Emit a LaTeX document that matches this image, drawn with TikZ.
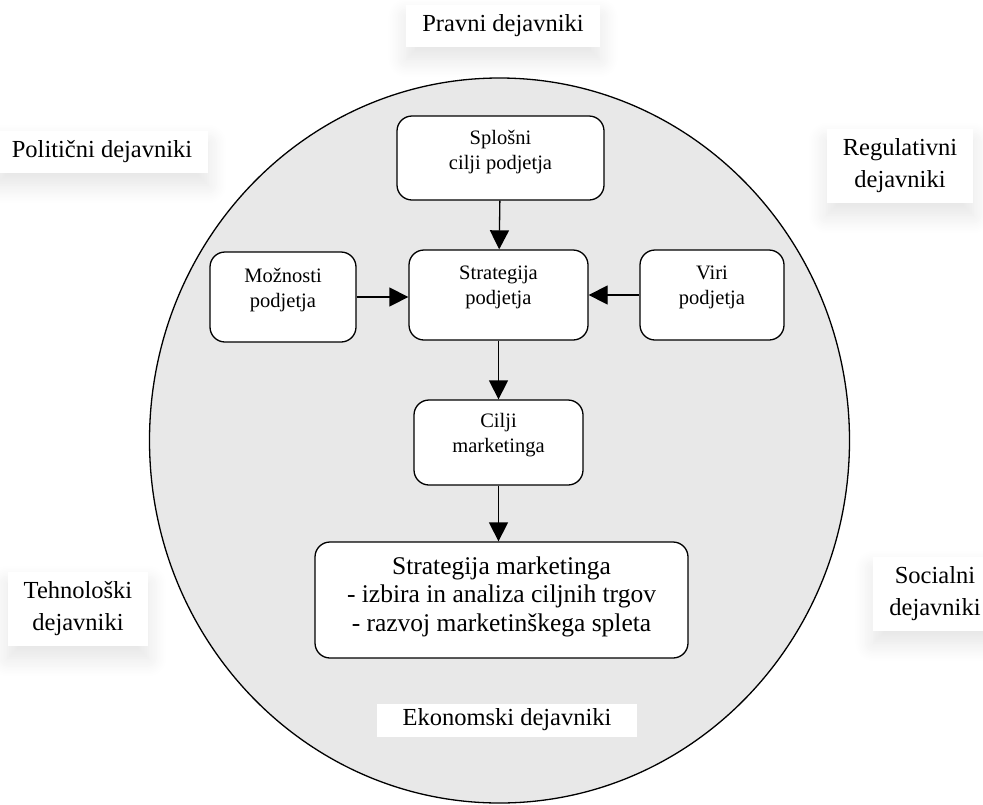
\documentclass[tikz,border=0pt]{standalone}
\usepackage{fontspec}
\setmainfont{Liberation Serif}
\usetikzlibrary{arrows.meta,shadows.blur}
\definecolor{discfill}{RGB}{232,232,232}
% empty trailing row that lifts the text block inside a box
\newcommand{\liftrow}[1]{\\[#1]\mbox{}}
\tikzset{
  box/.style={draw=black, line width=1.3pt, fill=white, rounded corners=15pt,
    align=center, inner sep=0pt, font=\fontsize{20.5}{25}\selectfont},
  bigbox/.style={box, font=\fontsize{25.5}{28.5}\selectfont},
  factor/.style={align=center, inner xsep=16pt, inner ysep=10pt, fill=white,
    font=\fontsize{24.5}{32}\selectfont,
    blur shadow={shadow xshift=0pt, shadow yshift=-12pt,
      shadow blur radius=18pt, shadow opacity=11, shadow blur steps=12}},
  flow/.style={line width=1.3pt, -{Triangle[length=19pt,width=19pt]}}
}
\begin{document}
\begin{tikzpicture}[x=1pt, y=-1pt]
\useasboundingbox (0,0) rectangle (983,804);

% environment disc
\draw[line width=1.3pt, fill=discfill] (499.5,440.5) ellipse [x radius=350, y radius=362.5];

% outer factors
\node[factor] (pravni) at (503,26) {Pravni dejavniki};
\node[factor] (politicni) at (102,152) {Politični dejavniki};
\node[factor] (regul) at (900,166) {Regulativni\\dejavniki};
\node[factor] (tehno) at (78,609) {Tehnološki\\dejavniki};
\node[factor] (social) at (935,594) {Socialni\\dejavniki};
\node[fill=white, minimum width=260pt, minimum height=33pt, inner sep=0pt,
  font=\fontsize{24.5}{32}\selectfont] (ekon) at (507,720) {Ekonomski dejavniki};

% planning boxes
\node[box, minimum width=207pt, minimum height=84pt] (splosni) at (500.5,158) {Splošni\\cilji podjetja\liftrow{-8pt}};
\node[box, minimum width=179pt, minimum height=90pt] (strat) at (498.5,295) {Strategija\\podjetja\liftrow{-6pt}};
\node[box, minimum width=146pt, minimum height=90pt] (moz) at (283,297) {Možnosti\\podjetja\liftrow{-6pt}};
\node[box, minimum width=144pt, minimum height=90pt] (viri) at (712,295) {Viri\\podjetja\liftrow{-6pt}};
\node[box, minimum width=169pt, minimum height=85pt] (cilji) at (498.5,442.5) {Cilji\\marketinga\liftrow{-6pt}};
\node[bigbox, minimum width=373pt, minimum height=116pt] (stratm) at (501.5,600)
  {Strategija marketinga\\- izbira in analiza ciljnih trgov\\- razvoj marketinškega spleta\liftrow{-16pt}};

% flows
\draw[flow] (splosni) -- (strat);
\draw[flow] (moz) -- (moz -| strat.west);
\draw[flow] (viri) -- (viri -| strat.east);
\draw[flow] (strat) -- (cilji);
\draw[flow] (cilji) -- (cilji |- stratm.north);
\end{tikzpicture}
\end{document}
